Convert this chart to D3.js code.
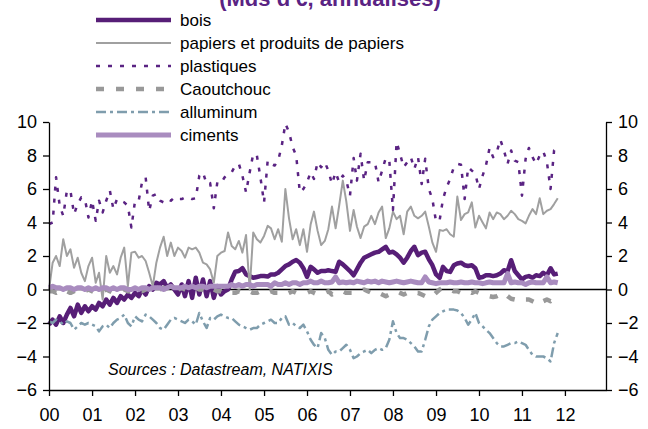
<!DOCTYPE html>
<html>
<head>
<meta charset="utf-8">
<script src="https://cdn.jsdelivr.net/npm/d3@7"></script>
<style>
  body { margin: 0; background: #fff; }
  svg { font-family: "Liberation Sans", Arial, sans-serif; }
</style>
</head>
<body>
<svg id="chart" width="648" height="429"></svg>
<script>
// monthly values, Jan 2000 -> Nov 2011 (one line per year)
const bois = [
  -2.1,-1.8,-2.1,-1.6,-2.0,-1.5,-1.1,-1.6,-0.9,-1.4,-1.0,-1.3,
  -1.0,-1.2,-0.8,-1.0,-0.6,-0.9,-0.5,-0.8,-0.4,-0.6,-0.3,-0.5,
  -0.2,-0.4,0.0,-0.3,0.2,0.0,0.4,0.3,0.5,0.1,0.3,0.0,
  -0.3,0.3,-0.4,0.5,-0.5,0.7,-0.3,0.6,-0.4,0.5,-0.5,0.2,
  -0.3,-0.1,0.0,0.6,1.06,1.1,1.27,0.9,0.8,0.7,0.75,0.8,
  0.8,0.77,0.9,0.9,1.0,1.2,1.4,1.5,1.66,1.76,1.6,1.27,
  0.75,1.35,1.2,1.0,1.1,1.1,1.15,1.1,1.06,1.66,1.5,1.3,
  1.1,0.85,1.2,1.6,1.9,2.0,2.1,2.2,2.25,2.4,2.55,2.2,
  2.25,2.1,1.9,1.6,1.9,2.3,2.55,2.05,2.2,2.25,1.8,1.45,
  0.9,0.7,1.35,1.1,1.05,1.45,1.55,1.6,1.45,1.4,1.45,1.27,
  0.7,0.75,0.85,0.85,0.8,0.85,0.95,1.15,1.1,1.75,1.1,0.85,
  0.6,0.75,0.8,0.7,0.85,0.8,1.0,0.85,1.27,0.9,0.95
];
const papiers = [
  0.0,1.6,2.0,1.4,3.0,2.0,2.4,1.3,1.9,1.0,0.5,1.4,
  1.9,0.4,1.0,-0.6,2.0,1.0,1.4,0.9,1.9,2.5,0.2,2.2,
  2.25,1.9,2.0,1.7,1.0,0.2,1.6,2.5,3.15,2.0,2.8,2.0,
  2.5,2.3,1.9,2.5,2.4,2.5,2.2,1.6,1.5,1.2,0.4,2.0,
  2.2,2.3,3.4,2.6,2.4,2.9,2.2,3.25,0.0,3.4,3.0,2.8,
  3.2,3.8,3.65,3.0,3.6,2.85,6.0,4.25,3.0,3.6,2.65,3.6,
  2.25,3.9,4.65,3.5,2.65,2.9,3.6,4.95,3.65,5.0,6.5,5.25,
  3.5,4.75,3.75,3.07,3.75,3.9,4.4,3.9,4.6,4.95,3.07,3.65,
  4.65,4.2,4.4,3.3,4.65,4.95,4.4,4.25,4.4,4.65,3.75,2.8,
  2.25,3.55,3.5,3.6,3.3,3.15,5.55,4.15,4.5,4.6,5.2,3.7,
  4.4,4.0,3.65,4.6,4.2,4.6,4.5,4.2,4.4,4.7,4.5,4.2,
  4.1,3.95,4.4,4.8,4.5,5.45,4.5,4.7,4.8,5.1,5.45
];
const plastiques = [
  3.9,4.0,6.7,5.0,4.4,5.9,5.9,4.5,5.1,5.5,5.4,4.3,
  5.3,4.1,5.3,4.6,5.3,5.9,4.8,5.4,5.3,5.2,5.0,3.7,
  5.3,5.3,6.4,6.7,4.7,5.6,5.7,5.3,5.2,5.4,5.3,5.5,
  5.4,5.4,5.5,5.5,5.4,5.45,6.8,7.0,6.3,6.35,4.85,6.4,
  6.35,6.7,6.9,7.0,7.4,7.5,6.8,5.8,7.0,8.1,8.0,6.7,
  5.2,7.7,7.5,7.4,7.7,8.6,9.9,9.4,8.5,8.0,5.8,6.0,
  6.4,7.0,6.6,7.6,7.3,7.6,7.1,6.3,7.0,6.4,6.8,6.5,
  5.6,7.85,6.5,8.1,6.5,7.6,7.6,7.6,6.4,7.1,7.85,7.7,
  4.75,8.8,8.1,7.3,7.6,7.9,7.2,7.9,6.3,7.8,6.0,5.4,
  4.05,4.15,5.4,6.1,6.6,7.3,7.5,7.45,5.4,7.3,7.1,6.9,
  6.0,6.8,7.4,8.45,7.9,8.2,8.95,8.3,7.5,8.3,7.7,7.6,
  5.6,7.8,8.45,7.9,7.5,8.0,8.25,7.6,6.0,8.3,8.5
];
const caoutchouc = [
  -0.1,-0.1,-0.2,-0.1,0.0,-0.1,-0.2,-0.1,0.0,-0.1,-0.1,0.0,
  -0.1,-0.2,-0.1,-0.1,0.0,-0.1,-0.2,-0.1,-0.1,0.0,-0.1,-0.1,
  0.0,-0.1,-0.1,0.0,0.1,0.0,-0.1,0.0,0.1,0.0,0.0,-0.1,
  0.0,0.1,0.0,-0.1,0.0,0.1,0.0,0.0,-0.1,0.1,0.0,-0.1,
  -0.1,-0.2,-0.1,-0.2,-0.2,-0.1,-0.2,-0.2,-0.1,-0.2,-0.2,-0.1,
  -0.2,-0.2,-0.1,-0.2,-0.2,-0.2,-0.3,-0.2,-0.1,-0.2,-0.2,-0.2,
  -0.2,-0.1,-0.2,-0.3,-0.3,-0.2,-0.1,-0.3,-0.2,-0.2,-0.1,-0.2,
  -0.2,-0.2,-0.1,-0.1,0.0,-0.1,-0.2,-0.1,-0.2,-0.3,-0.4,-0.3,
  -0.2,-0.1,-0.2,-0.3,-0.2,-0.1,-0.2,-0.2,-0.3,-0.4,-0.5,-0.4,
  -0.2,0.0,0.1,0.0,0.0,-0.1,-0.1,-0.2,-0.2,-0.1,-0.2,-0.1,
  -0.2,-0.3,-0.3,-0.4,-0.45,-0.4,-0.3,-0.2,-0.4,-0.55,-0.6,-0.5,
  -0.5,-0.6,-0.6,-0.7,-0.8,-0.9,-0.7,-0.6,-0.7,-0.5,-0.4
];
const alluminum = [
  -1.9,-2.0,-1.8,-1.9,-2.1,-1.9,-2.0,-2.4,-2.2,-2.0,-2.1,-2.0,
  -2.1,-2.2,-2.5,-2.2,-2.1,-2.3,-2.0,-1.8,-1.7,-1.5,-2.0,-2.2,
  -1.6,-1.8,-1.9,-1.5,-1.6,-1.8,-2.0,-2.3,-2.4,-2.1,-1.8,-1.7,
  -1.8,-1.9,-2.0,-1.8,-1.9,-2.1,-1.4,-1.9,-2.3,-1.7,-1.8,-1.6,
  -1.5,-1.6,-1.7,-1.7,-1.9,-2.1,-2.2,-2.3,-2.4,-2.3,-2.3,-2.1,
  -2.0,-1.9,-1.8,-2.0,-2.0,-1.7,-1.6,-2.1,-2.0,-2.2,-2.3,-2.1,
  -2.5,-3.0,-3.3,-3.5,-2.6,-2.9,-3.6,-3.9,-3.7,-3.7,-3.5,-3.3,
  -3.6,-4.1,-4.0,-3.8,-3.7,-3.6,-3.8,-3.6,-3.5,-3.6,-3.5,-3.0,
  -1.9,-2.6,-2.9,-2.9,-3.0,-3.2,-3.4,-3.7,-3.7,-3.0,-2.2,-1.8,
  -1.6,-1.4,-1.3,-1.2,-1.2,-1.2,-1.25,-1.4,-1.7,-2.1,-1.8,-1.4,
  -2.0,-2.2,-2.4,-2.6,-2.9,-3.2,-3.4,-3.4,-3.3,-3.2,-3.2,-3.1,
  -3.2,-3.3,-3.6,-3.9,-4.0,-4.0,-4.0,-4.1,-4.3,-3.2,-2.6
];
const ciments = [
  0.1,0.2,0.1,0.1,0.0,0.1,0.1,0.0,0.1,0.1,0.0,0.1,
  0.0,0.1,0.0,0.1,0.1,0.0,0.1,0.0,0.1,0.1,0.0,0.0,
  0.1,0.0,0.1,0.1,0.0,0.1,0.1,0.1,0.0,0.1,0.2,0.1,
  0.1,0.1,0.2,0.1,0.2,0.1,0.2,0.2,0.1,0.2,0.2,0.2,
  0.2,0.2,0.2,0.3,0.2,0.3,0.2,0.3,0.3,0.2,0.3,0.3,
  0.3,0.3,0.2,0.4,0.3,0.3,0.4,0.3,0.4,0.4,0.3,0.4,
  0.4,0.5,0.4,0.4,0.5,0.4,0.4,0.45,0.75,0.4,0.45,0.4,
  0.45,0.4,0.5,0.45,0.4,0.5,0.45,0.5,0.4,0.5,0.45,0.4,
  0.45,0.5,0.45,0.4,0.45,0.5,0.45,0.4,0.4,0.75,0.45,0.4,
  0.35,0.4,0.4,0.4,0.45,0.4,0.4,0.45,0.4,0.4,0.45,0.4,
  0.4,0.35,0.4,0.45,0.4,0.4,0.4,0.4,0.95,0.4,0.45,0.4,
  0.4,0.3,0.4,0.45,0.4,0.4,0.4,0.75,0.4,0.45,0.4
];

const yTicks = [-6, -4, -2, 0, 2, 4, 6, 8, 10];
const yearTicks = d3.range(2000, 2013);
const title = "(Mds d'€, annualisés)";
const source = "Sources : Datastream, NATIXIS";

const series = [
  { name: "bois", values: bois, color: "#571E77", width: 4.5, dash: null },
  { name: "papiers et produits de papiers", values: papiers, color: "#A0A0A0", width: 2, dash: null },
  { name: "plastiques", values: plastiques, color: "#5A2383", width: 2.5, dash: "4,8" },
  { name: "Caoutchouc", values: caoutchouc, color: "#999999", width: 4.5, dash: "8,12" },
  { name: "alluminum", values: alluminum, color: "#7F9DAD", width: 2.5, dash: "10,4,3,4" },
  { name: "ciments", values: ciments, color: "#A98CBF", width: 5, dash: null }
];

const svg = d3.select("#chart");
const plotLeft = 49, plotRight = 606, plotTop = 122, plotBottom = 390;

const x = d3.scaleTime()
  .domain([new Date(2000, 0, 1), new Date(2012, 11, 15)])
  .range([plotLeft, plotRight]);
const y = d3.scaleLinear().domain([-6, 10]).range([plotBottom, plotTop]);

// zero line
svg.append("line")
  .attr("x1", plotLeft).attr("x2", plotRight)
  .attr("y1", y(0)).attr("y2", y(0))
  .attr("stroke", "#000").attr("stroke-width", 1.5);

// series
const line = d3.line()
  .x((d, i) => x(new Date(2000, i, 1)))
  .y(d => y(d));

series.forEach(s => {
  svg.append("path")
    .datum(s.values)
    .attr("d", line)
    .attr("fill", "none")
    .attr("stroke", s.color)
    .attr("stroke-width", s.width)
    .attr("stroke-dasharray", s.dash)
    .attr("stroke-linejoin", "round");
});

// axes
const yLeft = d3.axisLeft(y).tickValues(yTicks).tickSize(6).tickSizeOuter(0).tickPadding(6);
const yRight = d3.axisRight(y).tickValues(yTicks).tickSize(6).tickSizeOuter(0).tickPadding(6);
const xAxis = d3.axisBottom(x)
  .tickValues(yearTicks.map(yr => new Date(yr, 0, 1)))
  .tickFormat(d3.timeFormat("%y"))
  .tickSize(6).tickSizeOuter(0).tickPadding(12);

function style(g) {
  g.select(".domain").attr("stroke", "#000").attr("stroke-width", 1.3);
  g.selectAll(".tick line").attr("stroke", "#000").attr("stroke-width", 1.3);
  g.selectAll(".tick text").attr("fill", "#000")
    .style("font-size", "18px").style("font-family", "Liberation Sans, Arial, sans-serif");
}
svg.append("g").attr("transform", `translate(${plotLeft},0)`).call(yLeft).call(style);
svg.append("g").attr("transform", `translate(${plotRight},0)`).call(yRight).call(style);
svg.append("g").attr("transform", `translate(0,${plotBottom})`).call(xAxis).call(style);

// title (cut at top, as in the source image)
svg.append("text")
  .attr("x", 330).attr("y", 6)
  .attr("text-anchor", "middle")
  .attr("fill", "#5A2383")
  .style("font-size", "22px").style("font-weight", "bold")
  .text(title);

// legend
const leg = svg.append("g");
series.forEach((s, i) => {
  const ly = 20 + i * 23;
  leg.append("line")
    .attr("x1", 96).attr("x2", 171)
    .attr("y1", ly).attr("y2", ly)
    .attr("stroke", s.color)
    .attr("stroke-width", s.width)
    .attr("stroke-dasharray", s.dash);
  leg.append("text")
    .attr("x", 180).attr("y", ly + 6)
    .attr("fill", "#000")
    .style("font-size", "17px")
    .text(s.name);
});

// source
svg.append("text")
  .attr("x", 108).attr("y", 375)
  .attr("fill", "#000")
  .style("font-size", "16px").style("font-style", "italic")
  .text(source);
</script>
</body>
</html>
